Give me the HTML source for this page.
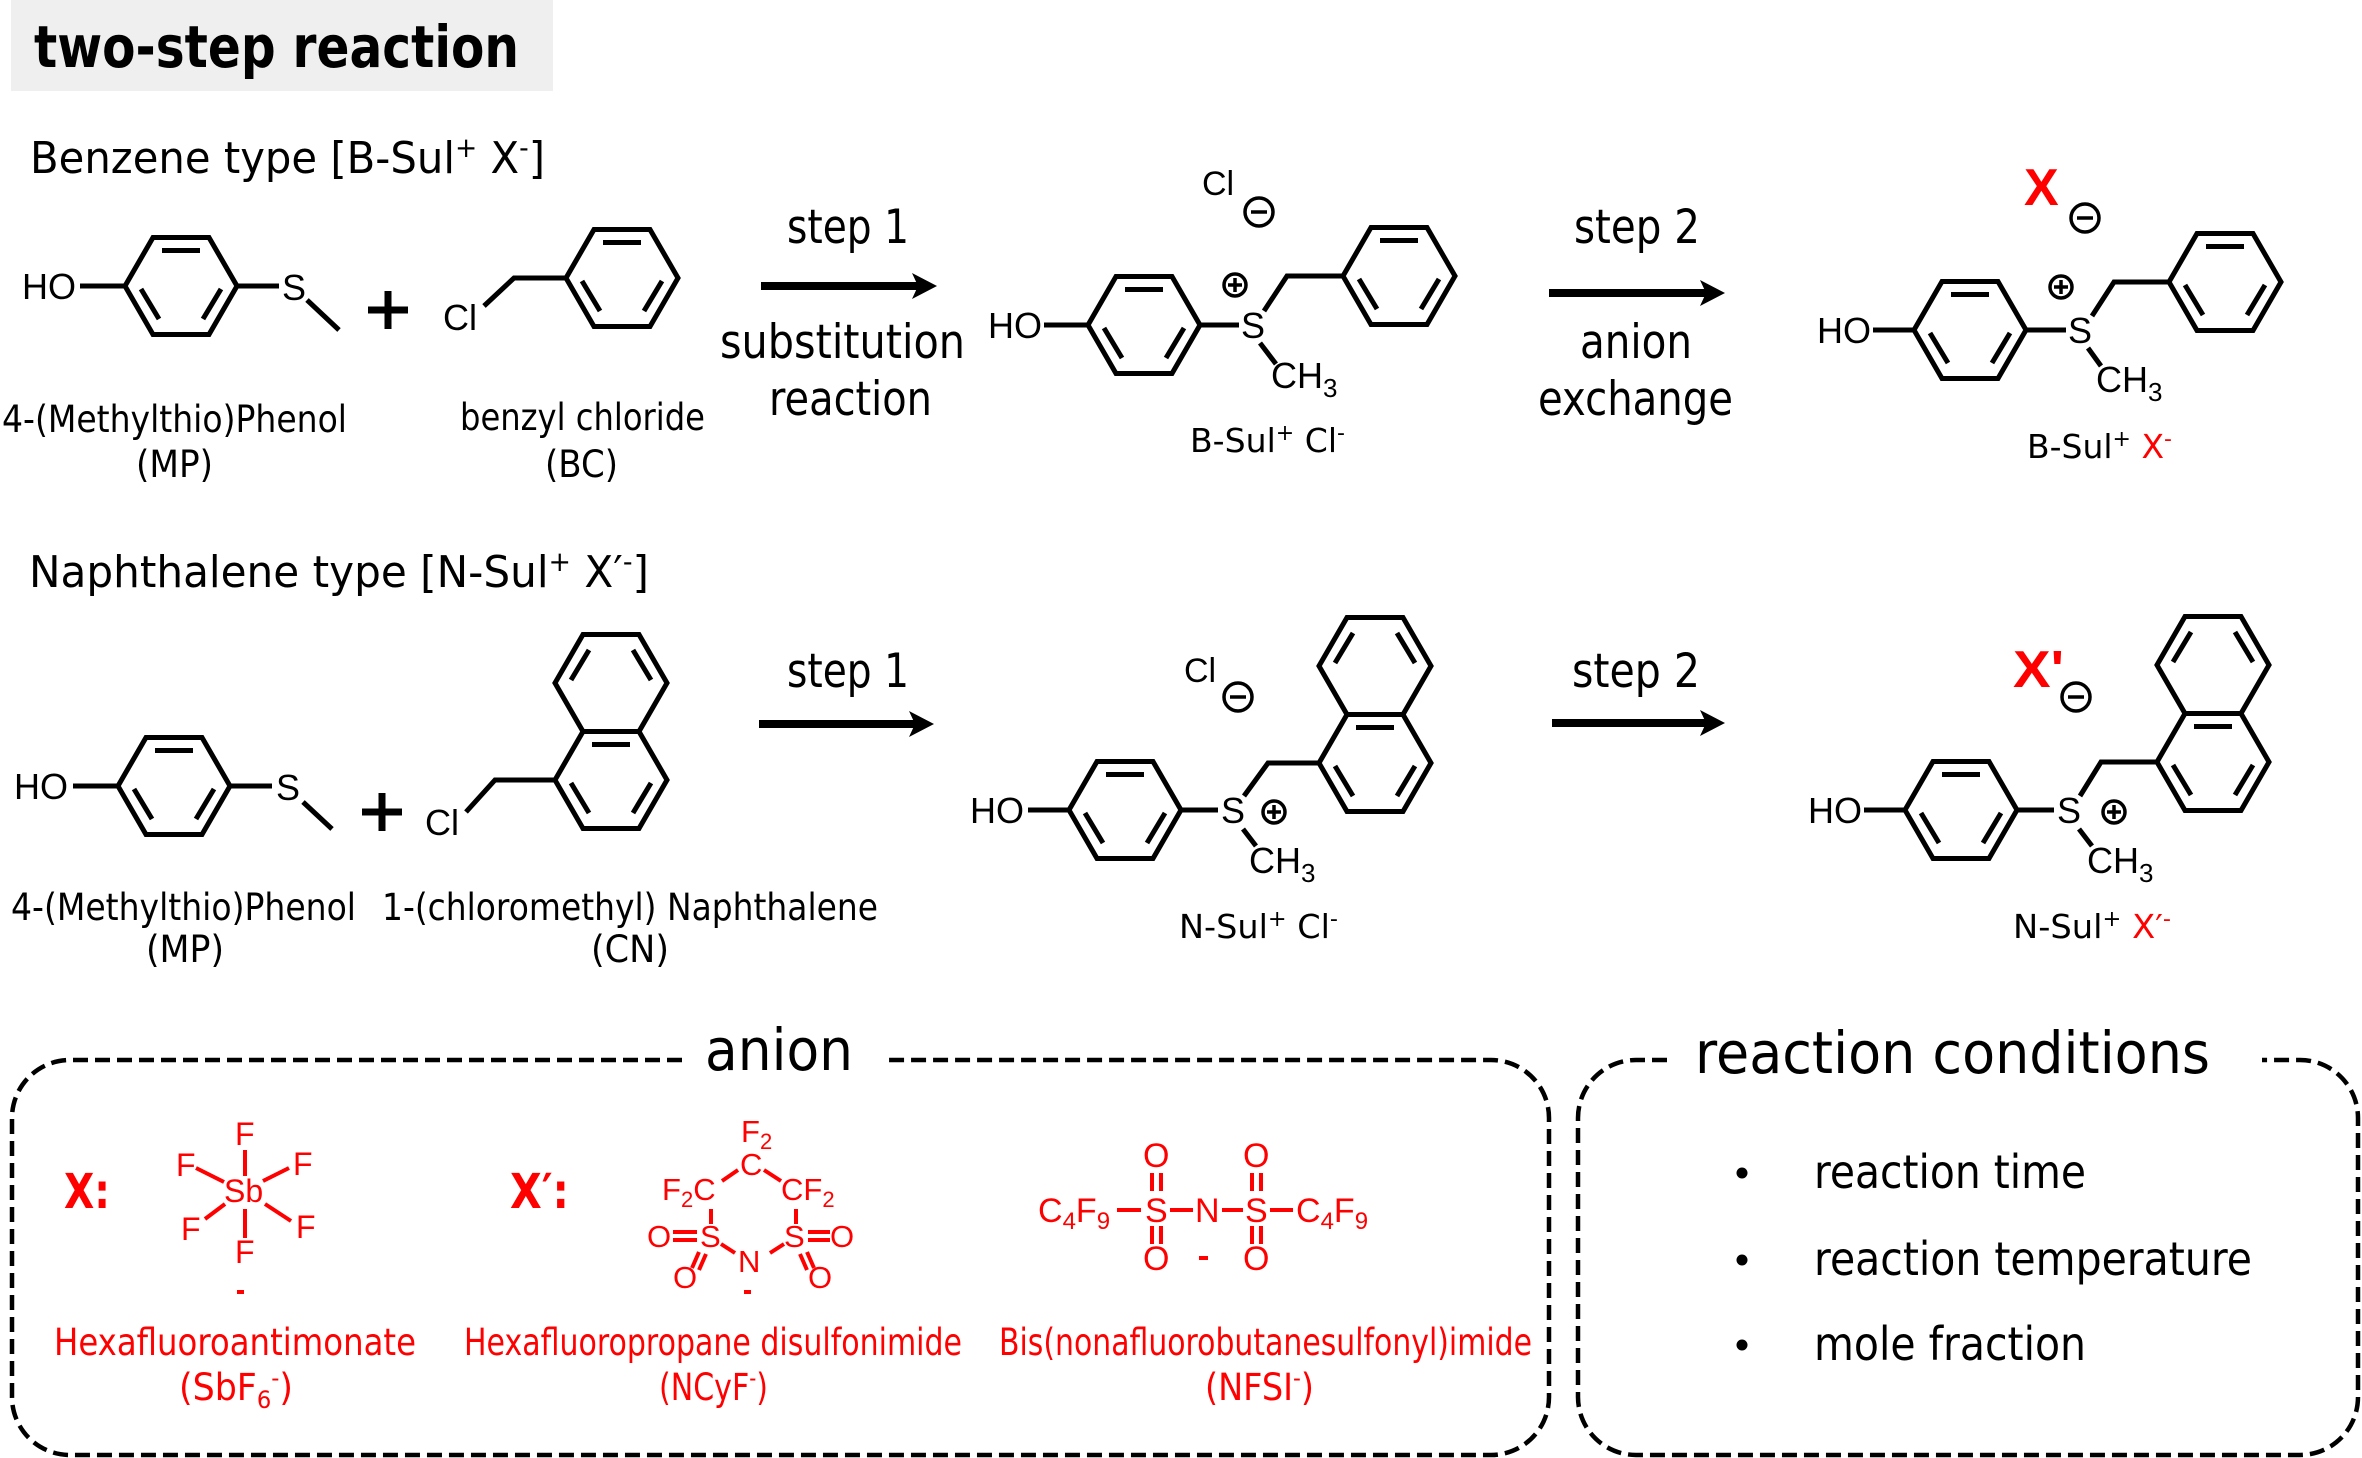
<!DOCTYPE html>
<html><head><meta charset="utf-8"><style>
html,body{margin:0;padding:0;background:#fff;}
svg{display:block}
.t{font-family:"DejaVu Sans","Liberation Sans",sans-serif;}
.a{font-family:"Liberation Sans",Arial,sans-serif;}
</style></head><body>
<svg width="2362" height="1458" viewBox="0 0 2362 1458" xmlns="http://www.w3.org/2000/svg">
<rect x="0" y="0" width="2362" height="1458" fill="#fff"/>
<!-- title -->
<rect x="11" y="0" width="542" height="91" fill="#efefef"/>
<text class="t" x="34" y="67" font-size="58" font-weight="bold" textLength="485" lengthAdjust="spacingAndGlyphs">two-step reaction</text>

<!-- headings -->
<text class="t" x="30" y="173" font-size="44" textLength="515" lengthAdjust="spacingAndGlyphs">Benzene type [B-Sul<tspan font-size="28" dy="-16">+</tspan><tspan dy="16"> X</tspan><tspan font-size="28" dy="-16">-</tspan><tspan dy="16">]</tspan></text>
<text class="t" x="29" y="587" font-size="44" textLength="620" lengthAdjust="spacingAndGlyphs">Naphthalene type [N-Sul<tspan font-size="28" dy="-16">+</tspan><tspan dy="16"> X′</tspan><tspan font-size="28" dy="-16">-</tspan><tspan dy="16">]</tspan></text>

<!-- bonds & rings -->
<g stroke="#000" stroke-width="5" fill="none" stroke-linejoin="miter">
 <!-- Row1 MP -->
 <line x1="80" y1="286" x2="125" y2="286"/>
 <polygon points="125,286 153,237.5 209,237.5 237,286 209,334.5 153,334.5"/>
 <line x1="162" y1="250.5" x2="200" y2="250.5"/><line x1="141" y1="289" x2="159" y2="319"/><line x1="221" y1="289" x2="203" y2="319"/>
 <line x1="237" y1="286" x2="279" y2="286"/>
 <line x1="307" y1="300" x2="339" y2="330"/>
 <!-- Row1 BC -->
 <polyline points="484,306 514,278 566,278"/>
 <polygon points="566,278 594,229.5 650,229.5 678,278 650,326.5 594,326.5"/>
 <line x1="603" y1="242.5" x2="641" y2="242.5"/><line x1="582" y1="281" x2="600" y2="311"/><line x1="662" y1="281" x2="644" y2="311"/>
 <!-- P1 -->
 <line x1="1044" y1="325" x2="1088" y2="325"/>
 <polygon points="1088,325 1116,276.5 1172,276.5 1200,325 1172,373.5 1116,373.5"/>
 <line x1="1125" y1="289.5" x2="1163" y2="289.5"/><line x1="1104" y1="328" x2="1122" y2="358"/><line x1="1184" y1="328" x2="1166" y2="358"/>
 <line x1="1200" y1="325" x2="1239" y2="325"/>
 <polyline points="1264,311 1287,276 1343,276"/>
 <line x1="1260" y1="343" x2="1276" y2="364"/>
 <polygon points="1343,276 1371,227.5 1427,227.5 1455,276 1427,324.5 1371,324.5"/>
 <line x1="1380" y1="240.5" x2="1418" y2="240.5"/><line x1="1359" y1="279" x2="1377" y2="309"/><line x1="1439" y1="279" x2="1421" y2="309"/>
 <!-- P2 -->
 <line x1="1873" y1="330" x2="1914" y2="330"/>
 <polygon points="1914,330 1942,281.5 1998,281.5 2026,330 1998,378.5 1942,378.5"/>
 <line x1="1951" y1="294.5" x2="1989" y2="294.5"/><line x1="1930" y1="333" x2="1948" y2="363"/><line x1="2010" y1="333" x2="1992" y2="363"/>
 <line x1="2026" y1="330" x2="2066" y2="330"/>
 <polyline points="2092,316 2114,282 2169,282"/>
 <line x1="2088" y1="348" x2="2101" y2="366"/>
 <polygon points="2169,282 2197,233.5 2253,233.5 2281,282 2253,330.5 2197,330.5"/>
 <line x1="2206" y1="246.5" x2="2244" y2="246.5"/><line x1="2185" y1="285" x2="2203" y2="315"/><line x1="2265" y1="285" x2="2247" y2="315"/>
 <!-- Row2 MP -->
 <line x1="73" y1="786" x2="118" y2="786"/>
 <polygon points="118,786 146,737.5 202,737.5 230,786 202,834.5 146,834.5"/>
 <line x1="155" y1="750.5" x2="193" y2="750.5"/><line x1="134" y1="789" x2="152" y2="819"/><line x1="214" y1="789" x2="196" y2="819"/>
 <line x1="230" y1="786" x2="272" y2="786"/>
 <line x1="303" y1="802" x2="332" y2="829"/>
 <!-- Row2 CN -->
 <polyline points="466,812 495,780 555,780"/>
 <polygon points="555,780 583,731.5 639,731.5 667,780 639,828.5 583,828.5"/>
 <polygon points="555,683 583,634.5 639,634.5 667,683 639,731.5 583,731.5"/>
 <line x1="592" y1="744.5" x2="630" y2="744.5"/><line x1="571" y1="783" x2="589" y2="813"/><line x1="651" y1="783" x2="633" y2="813"/>
 <line x1="571" y1="680" x2="589" y2="650"/><line x1="651" y1="680" x2="633" y2="650"/>
 <!-- P3 -->
 <line x1="1028" y1="810" x2="1069" y2="810"/>
 <polygon points="1069,810 1097,761.5 1153,761.5 1181,810 1153,858.5 1097,858.5"/>
 <line x1="1106" y1="774.5" x2="1144" y2="774.5"/><line x1="1085" y1="813" x2="1103" y2="843"/><line x1="1165" y1="813" x2="1147" y2="843"/>
 <line x1="1181" y1="810" x2="1218" y2="810"/>
 <polyline points="1244,796 1268,763 1319,763"/>
 <line x1="1243" y1="829" x2="1256" y2="846"/>
 <polygon points="1319,763 1347,714.5 1403,714.5 1431,763 1403,811.5 1347,811.5"/>
 <polygon points="1319,666 1347,617.5 1403,617.5 1431,666 1403,714.5 1347,714.5"/>
 <line x1="1356" y1="727.5" x2="1394" y2="727.5"/><line x1="1335" y1="766" x2="1353" y2="796"/><line x1="1415" y1="766" x2="1397" y2="796"/>
 <line x1="1335" y1="663" x2="1353" y2="633"/><line x1="1415" y1="663" x2="1397" y2="633"/>
 <!-- P4 -->
 <line x1="1864" y1="810" x2="1905" y2="810"/>
 <polygon points="1905,810 1933,761.5 1989,761.5 2017,810 1989,858.5 1933,858.5"/>
 <line x1="1942" y1="774.5" x2="1980" y2="774.5"/><line x1="1921" y1="813" x2="1939" y2="843"/><line x1="2001" y1="813" x2="1983" y2="843"/>
 <line x1="2017" y1="810" x2="2054" y2="810"/>
 <polyline points="2080,796 2101,762 2157,762"/>
 <line x1="2079" y1="829" x2="2092" y2="846"/>
 <polygon points="2157,762 2185,713.5 2241,713.5 2269,762 2241,810.5 2185,810.5"/>
 <polygon points="2157,665 2185,616.5 2241,616.5 2269,665 2241,713.5 2185,713.5"/>
 <line x1="2194" y1="726.5" x2="2232" y2="726.5"/><line x1="2173" y1="765" x2="2191" y2="795"/><line x1="2253" y1="765" x2="2235" y2="795"/>
 <line x1="2173" y1="662" x2="2191" y2="632"/><line x1="2253" y1="662" x2="2235" y2="632"/>
</g>

<!-- plus signs -->
<rect x="368" y="306.5" width="40" height="7" fill="#000"/><rect x="384.5" y="291" width="7" height="38" fill="#000"/>
<rect x="362" y="808.5" width="40" height="7" fill="#000"/><rect x="378.5" y="793" width="7" height="38" fill="#000"/>

<!-- atom labels -->
<g class="a" font-size="36" fill="#000">
 <text x="22" y="299">HO</text><text x="282" y="300">S</text><text x="443" y="330">Cl</text>
 <text x="988" y="338">HO</text><text x="1241" y="338">S</text><text x="1271" y="388">CH<tspan font-size="26" dy="9">3</tspan></text>
 <text x="1202" y="195" font-size="34">Cl</text>
 <text x="1817" y="343">HO</text><text x="2068" y="343">S</text><text x="2096" y="392">CH<tspan font-size="26" dy="9">3</tspan></text>
 <text x="14" y="799">HO</text><text x="276" y="800">S</text><text x="425" y="835">Cl</text>
 <text x="970" y="823">HO</text><text x="1221" y="823">S</text><text x="1249" y="873">CH<tspan font-size="26" dy="9">3</tspan></text>
 <text x="1184" y="682" font-size="34">Cl</text>
 <text x="1808" y="823">HO</text><text x="2057" y="823">S</text><text x="2087" y="873">CH<tspan font-size="26" dy="9">3</tspan></text>
 <text x="2024" y="205" font-size="52" font-weight="bold" fill="#f00">X</text>
 <text x="2013" y="687" font-size="52" font-weight="bold" fill="#f00" textLength="51" lengthAdjust="spacingAndGlyphs">X'</text>
</g>

<!-- charges -->
<g stroke="#000" stroke-width="3.5" fill="none">
 <circle cx="1259" cy="212" r="14"/><line x1="1251" y1="212" x2="1267" y2="212"/>
 <circle cx="1235" cy="285" r="11"/><line x1="1228" y1="285" x2="1242" y2="285"/><line x1="1235" y1="278" x2="1235" y2="292"/>
 <circle cx="2085" cy="218" r="14"/><line x1="2077" y1="218" x2="2093" y2="218"/>
 <circle cx="2061" cy="287" r="11"/><line x1="2054" y1="287" x2="2068" y2="287"/><line x1="2061" y1="280" x2="2061" y2="294"/>
 <circle cx="1238" cy="697" r="14"/><line x1="1230" y1="697" x2="1246" y2="697"/>
 <circle cx="1274" cy="812" r="11"/><line x1="1267" y1="812" x2="1281" y2="812"/><line x1="1274" y1="805" x2="1274" y2="819"/>
 <circle cx="2076" cy="697" r="14"/><line x1="2068" y1="697" x2="2084" y2="697"/>
 <circle cx="2114" cy="812" r="11"/><line x1="2107" y1="812" x2="2121" y2="812"/><line x1="2114" y1="805" x2="2114" y2="819"/>
</g>

<!-- arrows -->
<g stroke="#000" stroke-width="8">
 <line x1="761" y1="286" x2="922" y2="286"/>
 <line x1="1549" y1="293" x2="1710" y2="293"/>
 <line x1="759" y1="724" x2="919" y2="724"/>
 <line x1="1552" y1="723" x2="1710" y2="723"/>
</g>
<g fill="#000">
 <polygon points="937,286 912,273 918,286 912,299"/>
 <polygon points="1725,293 1700,280 1706,293 1700,306"/>
 <polygon points="934,724 909,711 915,724 909,737"/>
 <polygon points="1725,723 1700,710 1706,723 1700,736"/>
</g>

<!-- step texts -->
<g class="t" font-size="47" fill="#000">
 <text x="787" y="243" textLength="122" lengthAdjust="spacingAndGlyphs">step 1</text>
 <text x="720" y="358" textLength="245" lengthAdjust="spacingAndGlyphs">substitution</text>
 <text x="769" y="415" textLength="163" lengthAdjust="spacingAndGlyphs">reaction</text>
 <text x="1574" y="243" textLength="126" lengthAdjust="spacingAndGlyphs">step 2</text>
 <text x="1580" y="358" textLength="112" lengthAdjust="spacingAndGlyphs">anion</text>
 <text x="1538" y="415" textLength="195" lengthAdjust="spacingAndGlyphs">exchange</text>
 <text x="787" y="687" textLength="122" lengthAdjust="spacingAndGlyphs">step 1</text>
 <text x="1572" y="687" textLength="128" lengthAdjust="spacingAndGlyphs">step 2</text>
</g>

<!-- compound labels -->
<g class="t" font-size="37" fill="#000">
 <text x="2" y="432" textLength="345" lengthAdjust="spacingAndGlyphs">4-(Methylthio)Phenol</text>
 <text x="136" y="477" textLength="77" lengthAdjust="spacingAndGlyphs">(MP)</text>
 <text x="460" y="430" textLength="245" lengthAdjust="spacingAndGlyphs">benzyl chloride</text>
 <text x="545" y="477" textLength="73" lengthAdjust="spacingAndGlyphs">(BC)</text>
 <text x="11" y="920" textLength="345" lengthAdjust="spacingAndGlyphs">4-(Methylthio)Phenol</text>
 <text x="146" y="962" textLength="78" lengthAdjust="spacingAndGlyphs">(MP)</text>
 <text x="382" y="920" textLength="496" lengthAdjust="spacingAndGlyphs">1-(chloromethyl) Naphthalene</text>
 <text x="591" y="962" textLength="78" lengthAdjust="spacingAndGlyphs">(CN)</text>
</g>
<g class="t" font-size="33" fill="#000">
 <text x="1190" y="452" textLength="155" lengthAdjust="spacingAndGlyphs">B-Sul<tspan font-size="22" dy="-12">+</tspan><tspan dy="12"> Cl</tspan><tspan font-size="22" dy="-12">-</tspan></text>
 <text x="2027" y="458" textLength="145" lengthAdjust="spacingAndGlyphs">B-Sul<tspan font-size="22" dy="-12">+</tspan><tspan dy="12"> </tspan><tspan fill="#f00">X</tspan><tspan font-size="22" dy="-12" fill="#f00">-</tspan></text>
 <text x="1179" y="938" textLength="159" lengthAdjust="spacingAndGlyphs">N-Sul<tspan font-size="22" dy="-12">+</tspan><tspan dy="12"> Cl</tspan><tspan font-size="22" dy="-12">-</tspan></text>
 <text x="2013" y="938" textLength="158" lengthAdjust="spacingAndGlyphs">N-Sul<tspan font-size="22" dy="-12">+</tspan><tspan dy="12"> </tspan><tspan fill="#f00">X′</tspan><tspan font-size="22" dy="-12" fill="#f00">-</tspan></text>
</g>

<!-- dashed boxes -->
<g stroke="#000" stroke-width="4.5" fill="none" stroke-dasharray="15 7">
 <path d="M 682 1060 H 70 A 58 58 0 0 0 12 1118 V 1397 A 58 58 0 0 0 70 1455 H 1491 A 58 58 0 0 0 1549 1397 V 1118 A 58 58 0 0 0 1491 1060 H 885"/>
 <path d="M 1667 1060 H 1636 A 58 58 0 0 0 1578 1118 V 1397 A 58 58 0 0 0 1636 1455 H 2300 A 58 58 0 0 0 2358 1397 V 1118 A 58 58 0 0 0 2300 1060 H 2262"/>
</g>
<g class="t" font-size="58" fill="#000">
 <text x="705" y="1070" textLength="148" lengthAdjust="spacingAndGlyphs">anion</text>
 <text x="1695" y="1073" textLength="515" lengthAdjust="spacingAndGlyphs">reaction conditions</text>
</g>

<!-- reaction conditions -->
<g fill="#000">
 <circle cx="1742" cy="1173" r="5.5"/><circle cx="1742" cy="1260" r="5.5"/><circle cx="1742" cy="1345" r="5.5"/>
</g>
<g class="t" font-size="46" fill="#000">
 <text x="1814" y="1188" textLength="272" lengthAdjust="spacingAndGlyphs">reaction time</text>
 <text x="1814" y="1275" textLength="438" lengthAdjust="spacingAndGlyphs">reaction temperature</text>
 <text x="1814" y="1360" textLength="272" lengthAdjust="spacingAndGlyphs">mole fraction</text>
</g>

<!-- anion contents (red) -->
<g class="t" font-size="48" font-weight="bold" fill="#f00">
 <text x="64" y="1208" textLength="46" lengthAdjust="spacingAndGlyphs">X:</text>
 <text x="510" y="1208" textLength="59" lengthAdjust="spacingAndGlyphs">X′:</text>
</g>
<g stroke="#f00" stroke-width="4" fill="none">
 <!-- SbF6 -->
 <line x1="245" y1="1150" x2="245" y2="1176"/>
 <line x1="196" y1="1168" x2="224" y2="1182"/>
 <line x1="263" y1="1181" x2="289" y2="1168"/>
 <line x1="205" y1="1219" x2="225" y2="1204"/>
 <line x1="265" y1="1204" x2="291" y2="1221"/>
 <line x1="245" y1="1209" x2="245" y2="1238"/>
 <line x1="237" y1="1292" x2="244" y2="1292"/>
 <!-- NCyF -->
 <line x1="722" y1="1181" x2="738" y2="1170"/>
 <line x1="764" y1="1170" x2="781" y2="1181"/>
 <line x1="711" y1="1209" x2="711" y2="1224"/>
 <line x1="796" y1="1209" x2="796" y2="1224"/>
 <line x1="673" y1="1232" x2="697" y2="1232"/><line x1="673" y1="1240" x2="697" y2="1240"/>
 <line x1="808" y1="1232" x2="830" y2="1232"/><line x1="808" y1="1240" x2="830" y2="1240"/>
 <line x1="721" y1="1244" x2="735" y2="1253"/>
 <line x1="770" y1="1253" x2="784" y2="1244"/>
 <line x1="699" y1="1252" x2="692" y2="1268"/><line x1="706" y1="1254" x2="699" y2="1270"/>
 <line x1="800" y1="1254" x2="807" y2="1270"/><line x1="807" y1="1252" x2="814" y2="1268"/>
 <line x1="744" y1="1292" x2="751" y2="1292"/>
 <!-- NFSI -->
 <line x1="1117" y1="1210" x2="1141" y2="1210"/>
 <line x1="1170" y1="1210" x2="1193" y2="1210"/>
 <line x1="1222" y1="1210" x2="1243" y2="1210"/>
 <line x1="1270" y1="1210" x2="1293" y2="1210"/>
 <line x1="1152" y1="1173" x2="1152" y2="1191"/><line x1="1161" y1="1173" x2="1161" y2="1191"/>
 <line x1="1252" y1="1173" x2="1252" y2="1191"/><line x1="1261" y1="1173" x2="1261" y2="1191"/>
 <line x1="1152" y1="1226" x2="1152" y2="1244"/><line x1="1161" y1="1226" x2="1161" y2="1244"/>
 <line x1="1252" y1="1226" x2="1252" y2="1244"/><line x1="1261" y1="1226" x2="1261" y2="1244"/>
 <line x1="1199" y1="1258" x2="1208" y2="1258"/>
</g>
<g class="a" fill="#f00" font-size="32">
 <text x="224" y="1202">Sb</text>
 <text x="235" y="1145">F</text>
 <text x="176" y="1176">F</text>
 <text x="293" y="1175">F</text>
 <text x="181" y="1240">F</text>
 <text x="296" y="1238">F</text>
 <text x="235" y="1263">F</text>
</g>
<g class="a" fill="#f00" font-size="31">
 <text x="741" y="1142">F<tspan font-size="22" dy="7">2</tspan></text>
 <text x="740" y="1175">C</text>
 <text x="662" y="1200">F<tspan font-size="22" dy="7">2</tspan><tspan dy="-7">C</tspan></text>
 <text x="781" y="1200">CF<tspan font-size="22" dy="7">2</tspan></text>
 <text x="700" y="1247">S</text>
 <text x="647" y="1247">O</text>
 <text x="784" y="1247">S</text>
 <text x="830" y="1247">O</text>
 <text x="738" y="1272">N</text>
 <text x="673" y="1288">O</text>
 <text x="808" y="1288">O</text>
</g>
<g class="a" fill="#f00" font-size="34">
 <text x="1038" y="1222">C<tspan font-size="24" dy="7">4</tspan><tspan dy="-7">F</tspan><tspan font-size="24" dy="7">9</tspan></text>
 <text x="1145" y="1222">S</text>
 <text x="1195" y="1222">N</text>
 <text x="1245" y="1222">S</text>
 <text x="1296" y="1222">C<tspan font-size="24" dy="7">4</tspan><tspan dy="-7">F</tspan><tspan font-size="24" dy="7">9</tspan></text>
 <text x="1143" y="1167">O</text>
 <text x="1243" y="1167">O</text>
 <text x="1143" y="1270">O</text>
 <text x="1243" y="1270">O</text>
</g>
<g class="t" fill="#f00" font-size="37">
 <text x="54" y="1355" textLength="362" lengthAdjust="spacingAndGlyphs">Hexafluoroantimonate</text>
 <text x="179" y="1400" textLength="114" lengthAdjust="spacingAndGlyphs">(SbF<tspan font-size="24" dy="8">6</tspan><tspan font-size="24" dy="-22">-</tspan><tspan dy="14">)</tspan></text>
 <text x="464" y="1355" textLength="498" lengthAdjust="spacingAndGlyphs">Hexafluoropropane disulfonimide</text>
 <text x="659" y="1400" textLength="109" lengthAdjust="spacingAndGlyphs">(NCyF<tspan font-size="24" dy="-14">-</tspan><tspan dy="14">)</tspan></text>
 <text x="999" y="1355" textLength="533" lengthAdjust="spacingAndGlyphs">Bis(nonafluorobutanesulfonyl)imide</text>
 <text x="1205" y="1400" textLength="109" lengthAdjust="spacingAndGlyphs">(NFSI<tspan font-size="24" dy="-14">-</tspan><tspan dy="14">)</tspan></text>
</g>
</svg>
</body></html>
